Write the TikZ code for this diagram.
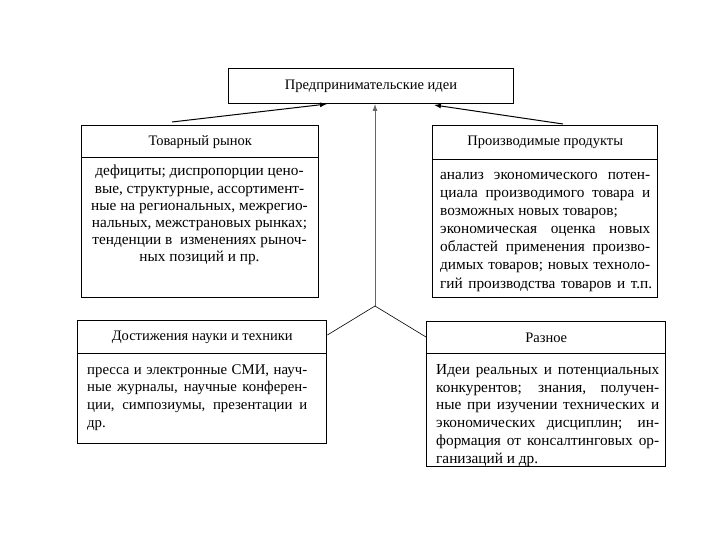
\documentclass[tikz,border=0pt]{standalone}
\usepackage{fontspec}
\setmainfont{Liberation Serif}
\usetikzlibrary{arrows.meta}
\newcommand{\jline}[2]{\makebox[#1][s]{#2}}
\tikzset{
  boxline/.style={draw, line width=1.4pt, inner sep=0pt, anchor=north west},
  ttl/.style={inner sep=0pt, font=\fontsize{14.5}{17}\selectfont},
  txt/.style={inner sep=0pt, font=\fontsize{15.3}{17.7}\selectfont},
  arr/.style={line width=1pt, -{Latex[length=7pt,width=5pt]}},
  conn/.style={line width=0.6pt}
}
\begin{document}
\begin{tikzpicture}[x=1pt,y=-1pt]
\useasboundingbox[fill=white] (0,0) rectangle (720,540);
% top box
\node[draw, line width=1pt, inner sep=0pt, anchor=north west, minimum width=285pt, minimum height=35pt] (idea) at (228,68) {};
\node[ttl] (ideat) at (idea.center) {Предпринимательские идеи};
% left top box
\node[boxline, minimum width=237pt, minimum height=32pt] (trh) at (81,125) {};
\node[boxline, minimum width=237pt, minimum height=140pt] (trb) at (81,157) {};
\node[ttl] (trt) at (trh.center) {Товарный рынок};
\node[txt, anchor=north, align=center, font=\fontsize{15.3}{17.2}\selectfont] (trx) at (199.5,165) {дефициты; диспропорции цено-\\вые, структурные, ассортимент-\\ные на региональных, межрегио-\\нальных, межстрановых рынках;\\тенденции в \ изменениях рыноч-\\ных позиций и пр.};
% right top box
\node[boxline, minimum width=225pt, minimum height=34pt] (pph) at (432,125) {};
\node[boxline, minimum width=225pt, minimum height=138pt] (ppb) at (432,159) {};
\node[ttl] (ppt) at (pph.center) {Производимые продукты};
\node[txt, anchor=north west, align=left, font=\fontsize{15.3}{18.1}\selectfont] (ppx) at (440,172) {\jline{210pt}{анализ экономического потен-}\\\jline{210pt}{циала производимого товара и}\\возможных новых товаров;\\\jline{210pt}{экономическая оценка новых}\\\jline{210pt}{областей применения произво-}\\\jline{210pt}{димых товаров; новых техноло-}\\\jline{212pt}{гий производства товаров и т.п.}};
% bottom left box
\node[boxline, minimum width=249pt, minimum height=33pt] (nth) at (77,320) {};
\node[boxline, minimum width=249pt, minimum height=90pt] (ntb) at (77,353) {};
\node[ttl] (ntt) at (nth.center) {Достижения науки и техники};
\node[txt, anchor=north west, align=left, font=\fontsize{14.8}{17.7}\selectfont] (ntx) at (87,364) {\jline{220pt}{пресса и электронные СМИ, науч-}\\\jline{220pt}{ные журналы, научные конферен-}\\\jline{220pt}{ции, симпозиумы, презентации и}\\др.};
% bottom right box
\node[boxline, minimum width=239pt, minimum height=32pt] (rzh) at (426,321) {};
\node[boxline, minimum width=239pt, minimum height=113pt] (rzb) at (426,353) {};
\node[ttl] (rzt) at (rzh.center) {Разное};
\node[txt, anchor=north west, align=left, font=\fontsize{15.3}{17.8}\selectfont] (rzx) at (436,364) {\jline{223pt}{Идеи реальных и потенциальных}\\\jline{223pt}{конкурентов; знания, получен-}\\\jline{223pt}{ные при изучении технических и}\\\jline{223pt}{экономических дисциплин; ин-}\\\jline{223pt}{формация от консалтинговых ор-}\\ганизаций и др.};
% connectors
\coordinate (a1) at ([xshift=91pt,yshift=3pt]trh.north west);
\coordinate (b1) at ([xshift=99pt]idea.south west);
\draw[arr] (a1) -- (b1);
\coordinate (a2) at ([xshift=131pt,yshift=1pt]pph.north west);
\coordinate (b2) at ([xshift=206pt,yshift=-1pt]idea.south west);
\draw[arr] (a2) -- (b2);
\coordinate (j) at (375,306);
\draw[arr, line width=0.8pt, draw=black!60] (j) -- (j |- idea.south);
\draw[conn] (j) -- ([yshift=-15pt]nth.north east);
\draw[conn] (j) -- ([yshift=-16pt]rzh.north west);
\end{tikzpicture}
\end{document}
